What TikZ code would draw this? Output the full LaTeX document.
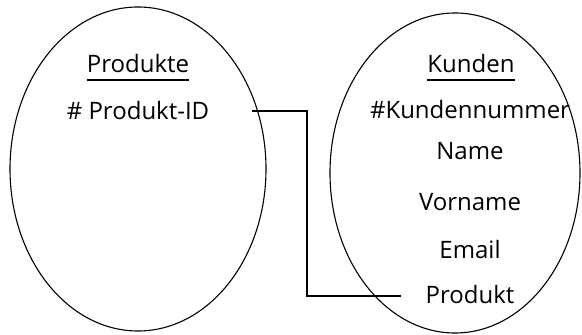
\documentclass[tikz,border=0pt]{standalone}
\usepackage{fontspec}
\setmainfont{Open Sans}
\usepackage{tikz}

\begin{document}
\begin{tikzpicture}[
		x=1pt, y=1pt,
		every node/.style={inner sep=0pt, anchor=base, font=\fontsize{24}{28}\selectfont},
		entity/.style={line width=1.1pt},
		link/.style={line width=1.2pt}
	]
  \useasboundingbox (0, 0) rectangle (582, 335);
  \draw [entity] (138, 166) ellipse [x radius=128, y radius=162];
  \draw [entity] (455, 162) ellipse [x radius=125, y radius=160];
  \node (prod) at (138, 262) {Produkte};
  \node (prod_id) at (138, 215) {\# Produkt-ID};
  \node (kunden) at (471, 262) {Kunden};
  \node (kd_nr) at (470, 216) {\#Kundennummer};
  \node (name) at (470, 175) {Name};
  \node (vorname) at (470, 124) {Vorname};
  \node (email) at (470, 76) {Email};
  \node (produkt) at (470, 31) {Produkt};
  \coordinate (id_end) at (252, 224);
  \coordinate (pr_end) at (401, 39);
  \draw [link] ([yshift=-7pt]prod.base west) -- ([yshift=-7pt]prod.base east);
  \draw [link] ([yshift=-7pt]kunden.base west) -- ([yshift=-7pt]kunden.base east);
  \draw [link] (id_end) -- (307, 224) |- (pr_end);
\end{tikzpicture}
\end{document}
